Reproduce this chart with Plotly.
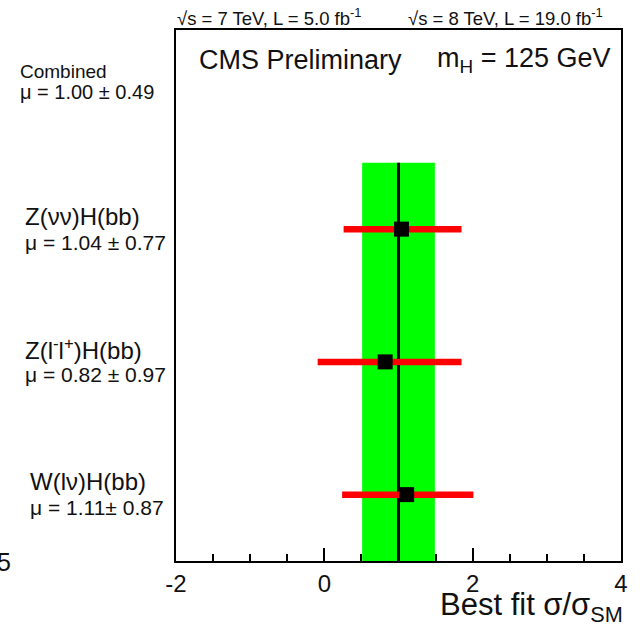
import plotly.graph_objects as go

# ---- data ----
channels = ["Z(νν)H(bb)", "Z(l<sup>-</sup>l<sup>+</sup>)H(bb)", "W(lν)H(bb)"]
mu_labels = ["μ = 1.04 ± 0.77", "μ = 0.82 ± 0.97", "μ = 1.11± 0.87"]
mu_values = [1.04, 0.82, 1.11]
err_lo = [0.26, -0.09, 0.24]
err_hi = [1.85, 1.85, 2.01]
row_pos = [2.5, 1.5, 0.5]

comb_mu = 1.00
comb_err = 0.49
comb_label = "Combined"
comb_mu_label = "μ = 1.00 ± 0.49"

x_ticks = [-2, 0, 2, 4]

W, H = 640, 631
L, R, T, B = 176, 16, 30, 70
pw, ph = W - L - R, H - T - B

def px(xp):
    return (xp - L) / pw

def py(yp):
    return (H - B - yp) / ph

FONT = "Liberation Sans, Arial, sans-serif"
TXT = "#111111"

fig = go.Figure()

# combined band
fig.add_trace(go.Scatter(
    x=[comb_mu - comb_err, comb_mu + comb_err, comb_mu + comb_err, comb_mu - comb_err],
    y=[0, 0, 3, 3], fill="toself", fillcolor="#00ff00", mode="none",
    hoverinfo="skip", showlegend=False))
# combined central line
fig.add_trace(go.Scatter(x=[comb_mu, comb_mu], y=[0, 3], mode="lines",
                         line=dict(color="black", width=3), showlegend=False))
# channel points with errors
fig.add_trace(go.Scatter(
    x=mu_values, y=row_pos, mode="markers",
    marker=dict(symbol="square", size=15, color="black"),
    error_x=dict(type="data", symmetric=False,
                 array=[h - m for h, m in zip(err_hi, mu_values)],
                 arrayminus=[m - l for l, m in zip(err_lo, mu_values)],
                 color="#ff0000", thickness=6.5, width=0),
    showlegend=False))

ann = []
# channel labels
label_x = [px(22), px(22), px(27)]
for name, ml, yv, lx in zip(channels, mu_labels, row_pos, label_x):
    ann.append(dict(x=lx, xref="paper", y=yv, yref="y", text=name, showarrow=False,
                    xanchor="left", yanchor="middle", yshift=13,
                    font=dict(family=FONT, size=24, color=TXT)))
    ann.append(dict(x=lx, xref="paper", y=yv, yref="y", text=ml, showarrow=False,
                    xanchor="left", yanchor="middle", yshift=-13,
                    font=dict(family=FONT, size=21, color=TXT)))
# combined label
ann.append(dict(x=px(17), xref="paper", y=py(71), yref="paper", text=comb_label,
                showarrow=False, xanchor="left", yanchor="middle",
                font=dict(family=FONT, size=19, color=TXT)))
ann.append(dict(x=px(17), xref="paper", y=py(92), yref="paper", text=comb_mu_label,
                showarrow=False, xanchor="left", yanchor="middle",
                font=dict(family=FONT, size=20, color=TXT)))
# header texts
ann.append(dict(x=px(197), xref="paper", y=py(60), yref="paper", text="CMS Preliminary",
                showarrow=False, xanchor="left", yanchor="middle",
                font=dict(family=FONT, size=27, color=TXT)))
ann.append(dict(x=px(437), xref="paper", y=py(60), yref="paper",
                text="m<sub>H</sub> = 125 GeV",
                showarrow=False, xanchor="left", yanchor="middle",
                font=dict(family=FONT, size=27, color=TXT)))
ann.append(dict(x=px(175), xref="paper", y=py(17), yref="paper",
                text="√s = 7 TeV, L = 5.0 fb<sup>-1</sup>",
                showarrow=False, xanchor="left", yanchor="middle",
                font=dict(family=FONT, size=18.5, color=TXT)))
ann.append(dict(x=px(408), xref="paper", y=py(17), yref="paper",
                text="√s = 8 TeV, L = 19.0 fb<sup>-1</sup>",
                showarrow=False, xanchor="left", yanchor="middle",
                font=dict(family=FONT, size=18.5, color=TXT)))
# x axis title
ann.append(dict(x=px(628), xref="paper", y=py(607), yref="paper",
                text="Best fit σ/σ<sub>SM</sub>",
                showarrow=False, xanchor="right", yanchor="middle",
                font=dict(family=FONT, size=31, color=TXT)))
# stray cut-off character at bottom left
ann.append(dict(x=px(12), xref="paper", y=py(562), yref="paper", text="5",
                showarrow=False, xanchor="right", yanchor="middle",
                font=dict(family=FONT, size=25, color=TXT)))

fig.update_layout(
    width=W, height=H,
    margin=dict(l=L, r=R, t=T, b=B, pad=0),
    paper_bgcolor="white", plot_bgcolor="white",
    annotations=ann,
    xaxis=dict(range=[-2, 4], tickvals=x_ticks, ticktext=[str(v) for v in x_ticks],
               ticks="inside", ticklen=13, tickwidth=2, tickcolor="black",
               minor=dict(dtick=0.5, ticks="inside", ticklen=7, tickwidth=2, tickcolor="black"),
               showline=True, linecolor="black", linewidth=2, mirror=True,
               showgrid=False, zeroline=False,
               tickfont=dict(family=FONT, size=24, color=TXT)),
    yaxis=dict(range=[0, 4], showticklabels=False, ticks="",
               showline=True, linecolor="black", linewidth=2, mirror=True,
               showgrid=False, zeroline=False),
)

fig.write_html("out.html")
